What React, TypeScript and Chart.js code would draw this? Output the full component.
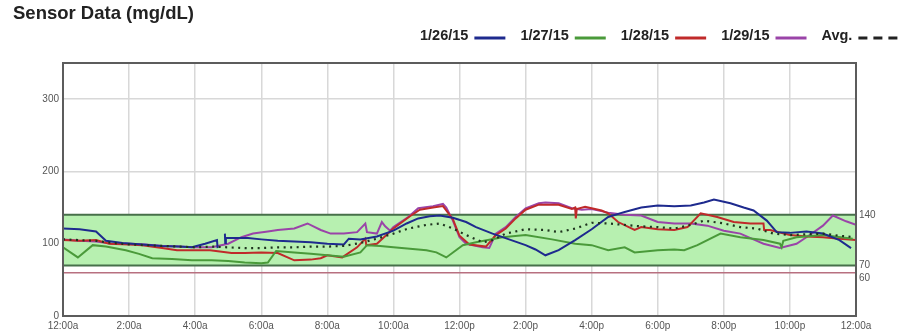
import { useEffect, useRef } from "react";
import { Chart, registerables } from "chart.js";

Chart.register(...registerables);

const TITLE = "Sensor Data (mg/dL)";
const FONT = "'Liberation Sans', Arial, sans-serif";

const xTickHours = [0, 2, 4, 6, 8, 10, 12, 14, 16, 18, 20, 22, 24];
const xTickLabels = ["12:00a", "2:00a", "4:00a", "6:00a", "8:00a", "10:00a", "12:00p", "2:00p", "4:00p", "6:00p", "8:00p", "10:00p", "12:00a"];
const yTicks = [0, 100, 200, 300];
const targetTicks = [140, 70, 60];
const targetHigh = 140;
const targetLow = 70;
const alertLow = 60;

const seriesNames = ["1/26/15", "1/27/15", "1/28/15", "1/29/15", "Avg."];
const seriesColors = ["#1e2a8e", "#4a9a3a", "#c02a2a", "#9a44a8", "#1e341e"];

// [hour, mg/dL]
const day1: [number, number | null][] = [
  [0, 121], [0.5, 120], [1.0, 117], [1.3, 104], [1.8, 101], [2.4, 99], [3.0, 97], [3.5, 96], [3.9, 95], [4.3, 100],
  [4.66, 105], [4.68, 94], [4.8, null], [4.9, 114], [4.91, 101], [4.93, 108], [5.3, 108], [5.6, 108], [6.0, 106],
  [6.5, 104], [7.0, 103], [7.5, 102], [8.0, 100], [8.5, 99], [8.65, 107], [9.0, 106], [9.5, 110], [10.0, 118],
  [10.4, 128], [10.75, 135], [11.1, 138], [11.4, 139], [11.8, 136], [12.2, 130], [12.5, 123], [13.0, 114], [13.5, 106],
  [14.0, 98], [14.3, 92], [14.6, 84], [15.0, 91], [15.5, 105], [16.0, 120], [16.5, 137], [17.0, 144], [17.5, 150],
  [18.0, 153], [18.5, 152], [19.0, 153], [19.4, 157], [19.7, 161], [20.2, 156], [20.6, 150], [20.9, 146], [21.3, 132],
  [21.6, 116], [22.0, 115], [22.5, 117], [23.0, 114], [23.5, 105], [23.85, 94],
];
const day2: [number, number][] = [
  [0, 95], [0.45, 81], [0.9, 98], [1.3, 96], [1.9, 91], [2.3, 86], [2.7, 80], [3.3, 79], [3.9, 77], [4.5, 77], [5.0, 76],
  [5.5, 74], [6.0, 73], [6.2, 74], [6.45, 90], [7.0, 88], [7.5, 86], [8.0, 84], [8.5, 82], [9.0, 88], [9.2, 98], [9.6, 97],
  [10, 95], [10.5, 93], [11, 91], [11.3, 88], [11.6, 81], [12.1, 98], [12.5, 102], [13.3, 109], [14, 112], [14.8, 106],
  [15.5, 100], [16, 98], [16.5, 91], [17, 95], [17.3, 88], [18, 91], [18.5, 92], [18.8, 91], [19.2, 98], [19.9, 114],
  [20.5, 109], [21.2, 105], [21.7, 100], [21.75, 95], [21.8, 104], [22.2, 109], [23, 112], [23.9, 107],
];
const day3: [number, number][] = [
  [0, 105], [0.5, 104], [1, 105], [1.4, 100], [2, 99], [2.4, 98], [3, 94], [3.45, 91], [4, 91], [4.45, 91], [5.1, 87],
  [5.5, 87], [6, 88], [6.5, 87], [7, 77], [7.5, 78], [7.8, 80], [8, 84], [8.45, 81], [8.9, 95], [9.15, 107], [9.18, 98],
  [9.5, 100], [10, 121], [10.5, 138], [10.8, 147], [11.2, 150], [11.5, 152], [11.8, 134], [12, 111], [12.3, 99], [12.8, 96],
  [13.1, 112], [13.4, 121], [13.7, 135], [14, 147], [14.4, 154], [15, 154], [15.4, 148], [15.5, 150], [15.52, 135],
  [15.55, 148], [15.8, 151], [16, 149], [16.3, 146], [16.5, 142], [16.8, 130], [17.3, 119], [17.5, 123], [18, 120],
  [18.5, 119], [18.9, 123], [19.3, 142], [19.8, 137], [20.3, 130], [20.8, 128], [21.2, 128], [21.22, 119], [21.4, 119],
  [22, 112], [22.5, 110], [23, 109], [23.5, 107], [24, 105],
];
const day4: [number, number][] = [
  [0, 106], [0.5, 104], [1, 103], [1.5, 100], [2, 100], [2.5, 99], [3, 97], [3.5, 96], [4, 95], [4.5, 95], [5, 100],
  [5.4, 109], [5.75, 114], [6.2, 117], [6.5, 119], [7, 121], [7.4, 128], [7.8, 119], [8.1, 114], [8.5, 114], [8.9, 116],
  [9.15, 128], [9.2, 116], [9.5, 114], [9.65, 130], [9.75, 124], [9.9, 118], [10, 123], [10.45, 137], [10.75, 149],
  [11.2, 152], [11.5, 155], [11.6, 150], [11.8, 132], [12, 109], [12.2, 100], [12.7, 95], [12.9, 94], [13.1, 114],
  [13.4, 123], [13.7, 137], [14, 149], [14.4, 156], [14.6, 157], [15, 156], [15.4, 149], [15.7, 147], [16, 148],
  [16.5, 143], [17, 140], [17.5, 139], [18, 130], [18.5, 128], [19, 128], [19.5, 125], [20, 118], [20.5, 114], [21, 104],
  [21.2, 100], [21.7, 94], [22.2, 100], [22.6, 112], [23, 125], [23.3, 139], [23.7, 131], [24, 126],
];
const average: [number, number][] = [
  [0, 106], [0.5, 105], [1, 104], [1.5, 101], [2, 99], [2.5, 98], [3, 97], [3.5, 96], [4, 95], [4.5, 96], [5, 95],
  [5.5, 94], [6, 94], [6.5, 95], [7, 95], [7.5, 96], [8, 96], [8.5, 97], [9, 101], [9.5, 107], [10, 114], [10.45, 121],
  [11, 126], [11.4, 128], [11.8, 121], [12.2, 112], [12.7, 102], [13, 105], [13.4, 114], [14, 120], [14.6, 119], [15, 116],
  [15.5, 121], [16, 129], [16.5, 128], [17, 126], [17.5, 124], [18, 123], [18.5, 121], [19, 126], [19.4, 132], [20, 128],
  [20.5, 123], [21, 121], [21.5, 114], [22, 112], [22.5, 113], [23, 114], [23.5, 111], [24, 109],
];

const allSeries = [day1, day2, day3, day4, average];

const decorPlugin = {
  id: "decor",
  beforeDatasetsDraw(chart: any) {
    const { ctx, chartArea, scales } = chart;
    const y = scales.y;
    const yh = y.getPixelForValue(targetHigh);
    const yl = y.getPixelForValue(targetLow);
    const ya = y.getPixelForValue(alertLow);
    ctx.save();
    ctx.fillStyle = "#b7f0b0";
    ctx.fillRect(chartArea.left, yh, chartArea.right - chartArea.left, yl - yh);
    ctx.strokeStyle = "#47704a";
    ctx.lineWidth = 2;
    ctx.beginPath();
    ctx.moveTo(chartArea.left, yh);
    ctx.lineTo(chartArea.right, yh);
    ctx.moveTo(chartArea.left, yl);
    ctx.lineTo(chartArea.right, yl);
    ctx.stroke();
    ctx.strokeStyle = "#b87080";
    ctx.lineWidth = 1.5;
    ctx.beginPath();
    ctx.moveTo(chartArea.left, ya);
    ctx.lineTo(chartArea.right, ya);
    ctx.stroke();
    ctx.restore();
  },
  afterDatasetsDraw(chart: any) {
    const { ctx, chartArea, scales } = chart;
    ctx.save();
    ctx.strokeStyle = "#5c5c5c";
    ctx.lineWidth = 2;
    ctx.strokeRect(chartArea.left, chartArea.top, chartArea.right - chartArea.left, chartArea.bottom - chartArea.top);

    // right-side target labels, nudged apart when they would collide
    ctx.fillStyle = "#555";
    ctx.font = `10px ${FONT}`;
    ctx.textAlign = "left";
    ctx.textBaseline = "middle";
    let prev = -Infinity;
    targetTicks.forEach((v) => {
      let py = scales.y.getPixelForValue(v);
      if (py - prev < 12) py = prev + 13;
      ctx.fillText(String(v), chartArea.right + 3, py);
      prev = py;
    });
    ctx.restore();
  },
  afterDraw(chart: any) {
    const { ctx } = chart;
    ctx.save();
    ctx.fillStyle = "#222";
    ctx.font = `bold 18.5px ${FONT}`;
    ctx.textBaseline = "alphabetic";
    ctx.textAlign = "left";
    ctx.fillText(TITLE, 13, 19);

    ctx.font = `bold 14.5px ${FONT}`;
    let x = 420;
    chart.data.datasets.forEach((ds: any) => {
      ctx.fillStyle = "#222";
      ctx.fillText(ds.label, x, 40);
      x += ctx.measureText(ds.label).width + 6;
      const isAvg = !!ds.borderDash && ds.borderDash.length > 0;
      const len = isAvg ? 39 : 31;
      ctx.strokeStyle = isAvg ? "#222" : ds.borderColor;
      ctx.lineWidth = 3;
      ctx.setLineDash(isAvg ? [9, 6] : []);
      ctx.beginPath();
      ctx.moveTo(x, 38);
      ctx.lineTo(x + len, 38);
      ctx.stroke();
      ctx.setLineDash([]);
      x += len + 15;
    });
    ctx.restore();
  },
};

export default function App() {
  const ref = useRef<HTMLCanvasElement | null>(null);

  useEffect(() => {
    if (!ref.current) return;
    Chart.defaults.font.family = FONT;
    const datasets = allSeries.map((s, i) => {
      const isAvg = i === allSeries.length - 1;
      return {
        label: seriesNames[i],
        data: s.map(([h, v]) => ({ x: h, y: v })),
        borderColor: seriesColors[i],
        backgroundColor: seriesColors[i],
        borderWidth: isAvg ? 2.2 : 2,
        borderDash: isAvg ? [2, 4.5] : [],
        pointRadius: 0,
        tension: 0,
        spanGaps: false,
        order: isAvg ? -1 : i,
      };
    });

    const chart = new Chart(ref.current, {
      type: "line",
      data: { datasets },
      plugins: [decorPlugin],
      options: {
        responsive: false,
        animation: false,
        layout: { padding: { top: 63, left: 0, right: 52, bottom: 0 } },
        plugins: { legend: { display: false }, title: { display: false }, tooltip: { enabled: false } },
        scales: {
          x: {
            type: "linear",
            min: 0,
            max: 24,
            afterBuildTicks: (s: any) => {
              s.ticks = xTickHours.map((v) => ({ value: v }));
            },
            afterFit: (s: any) => {
              s.height = 16;
            },
            ticks: {
              autoSkip: false,
              maxRotation: 0,
              padding: 4,
              color: "#555",
              font: { size: 10 },
              callback: (v: any) => xTickLabels[xTickHours.indexOf(Number(v))] ?? "",
            },
            grid: { color: "#d8d8d8", lineWidth: 1.5, drawTicks: false },
            border: { display: false },
          },
          y: {
            position: "left",
            min: 0,
            max: 350,
            afterBuildTicks: (s: any) => {
              s.ticks = yTicks.map((v) => ({ value: v }));
            },
            afterFit: (s: any) => {
              s.width = 63;
            },
            ticks: { padding: 4, color: "#555", font: { size: 10 }, autoSkip: false },
            grid: { color: "#d8d8d8", lineWidth: 1.5, drawTicks: false },
            border: { display: false },
          },
        },
      },
    });
    return () => chart.destroy();
  }, []);

  return (
    <div style={{ position: "absolute", left: 0, top: 0, width: 908, height: 332, background: "#fff" }}>
      <canvas ref={ref} width={908} height={332} style={{ display: "block" }} />
    </div>
  );
}
